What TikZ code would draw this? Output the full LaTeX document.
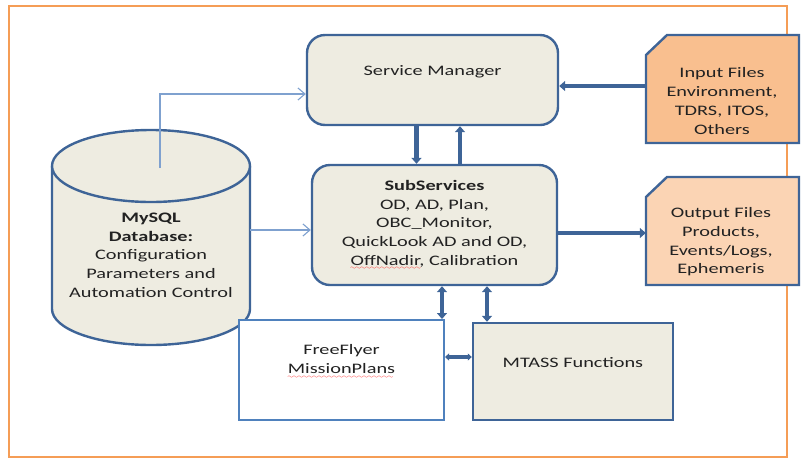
\documentclass[tikz,border=0pt]{standalone}
\usepackage{fontspec}
\setmainfont{Carlito}[FakeStretch=1.4]
\usetikzlibrary{arrows.meta,calc}
\definecolor{framec}{HTML}{F59D56}
\definecolor{beige}{HTML}{EEECE1}
\definecolor{bordc}{HTML}{3E6497}
\definecolor{ffbord}{HTML}{4F81BD}
\definecolor{thinc}{HTML}{7FA1CF}
\definecolor{inc}{HTML}{F9BF8F}
\definecolor{outc}{HTML}{FBD4B4}
\definecolor{textc}{HTML}{222222}
\font\mywavefont=lasy6
\newsavebox\mywavebox
\newcommand\spellwave[1]{\sbox\mywavebox{#1}\rlap{\color{red}\lower4.6pt\hbox to\wd\mywavebox{\leaders\hbox{\mywavefont\char58}\hfil}}#1}
\begin{document}
\begin{tikzpicture}[x=1pt,y=-1pt,
  box/.style={draw=bordc, line width=2.4pt, fill=beige, rounded corners=18pt, inner sep=0pt},
  sqbox/.style={draw=bordc, line width=2.4pt, fill=beige, inner sep=0pt},
  ghost/.style={inner sep=0pt},
  txt/.style={align=center, font=\fontsize{14.5}{18.7}\selectfont, text=textc, inner sep=0pt},
  bigarrow/.style={draw=bordc, line width=4.5pt, -{Triangle[width=10pt,length=6pt]}},
  bigdbl/.style={draw=bordc, line width=4.5pt, {Triangle[width=10pt,length=6pt]}-{Triangle[width=10pt,length=6pt]}},
  smalldbl/.style={draw=bordc, line width=4pt, {Triangle[width=7pt,length=4pt]}-{Triangle[width=7pt,length=4pt]}},
  thinarrow/.style={draw=thinc, line width=1.1pt, -{Straight Barb[length=7pt,width=12pt]}}
]
\useasboundingbox (0,0) rectangle (801,459);
% outer frame
\draw[framec, line width=2.5pt] (9,6) rectangle (787,457);

% database cylinder
\fill[beige] (52,166) -- (52,309) arc[start angle=180,end angle=0,x radius=99,y radius=36] -- (250,166) -- cycle;
\draw[bordc, line width=2.4pt] (52,166) -- (52,309) arc[start angle=180,end angle=0,x radius=99,y radius=36] -- (250,166);
\draw[bordc, line width=2.4pt, fill=beige] (151,166) ellipse [x radius=99, y radius=36];
\node[ghost, minimum width=198pt, minimum height=215pt] (db) at (151,237.5) {};
\node[txt] (dbt) at (151,255) {\textbf{MySQL}\\\textbf{Database:}\\Configuration\\Parameters and\\Automation Control};
\coordinate (dbtop) at (160,168);

% service manager
\node[box, minimum width=251pt, minimum height=90pt] (sm) at (432.5,80) {};
\node[txt] (smt) at (432.5,72) {Service Manager};

% subservices
\node[box, minimum width=245pt, minimum height=120pt] (ss) at (434.5,225) {};
\node[txt] (sst) at (434.5,225) {\textbf{SubServices}\\OD, AD, Plan,\\OBC\_Monitor,\\QuickLook AD and OD,\\\spellwave{OffNadir}, Calibration};

% freeflyer
\node[draw=ffbord, line width=2pt, fill=white, inner sep=0pt, minimum width=205pt, minimum height=100pt] (ff) at (341.5,370) {};
\node[txt] (fft) at (341.5,361.5) {FreeFlyer\\\spellwave{MissionPlans}};

% mtass
\node[sqbox, minimum width=200pt, minimum height=97pt] (mt) at (573,371.5) {};
\node[txt] (mtt) at (573,363) {MTASS Functions};

% input files
\draw[bordc, line width=2.4pt, fill=inc] (646,55) -- (667,35) -- (799,35) -- (799,143) -- (646,143) -- cycle;
\node[ghost, minimum width=153pt, minimum height=108pt] (in) at (722.5,89) {};
\node[txt] (int) at (722,101) {Input Files\\Environment,\\TDRS, ITOS,\\Others};

% output files
\draw[bordc, line width=2.4pt, fill=outc] (646,197) -- (667,177) -- (799,177) -- (799,285) -- (646,285) -- cycle;
\node[ghost, minimum width=153pt, minimum height=108pt] (out) at (722.5,231) {};
\node[txt] (outt) at (721,242) {Output Files\\Products,\\Events/Logs,\\Ephemeris};

% thin arrows
\draw[thinarrow] (dbtop) |- ([yshift=-14pt]sm.west);
\draw[thinarrow] ([yshift=7.5pt]db.east) -- ([yshift=7.5pt]db.east -| ss.west);

% thick arrows
\draw[bigarrow] ([yshift=3pt]in.west) -- ([yshift=3pt]in.west -| sm.east);
\draw[bigarrow] ([xshift=-16pt]sm.south) -- ([xshift=-16pt]sm.south |- ss.north);
\draw[bigarrow] ([xshift=27.5pt]sm.south |- ss.north) -- ([xshift=27.5pt]sm.south);
\draw[bigarrow] ([yshift=-8pt]ss.east) -- ([yshift=-8pt]ss.east -| out.west);
\draw[bigdbl] ([xshift=7.5pt]ss.south) -- ([xshift=7.5pt]ss.south |- ff.north);
\draw[bigdbl] ([xshift=52.5pt]ss.south) -- ([xshift=52.5pt]ss.south |- mt.north);
\draw[smalldbl] ([yshift=13pt]ff.east) -- ([yshift=13pt]ff.east -| mt.west);
\end{tikzpicture}
\end{document}
